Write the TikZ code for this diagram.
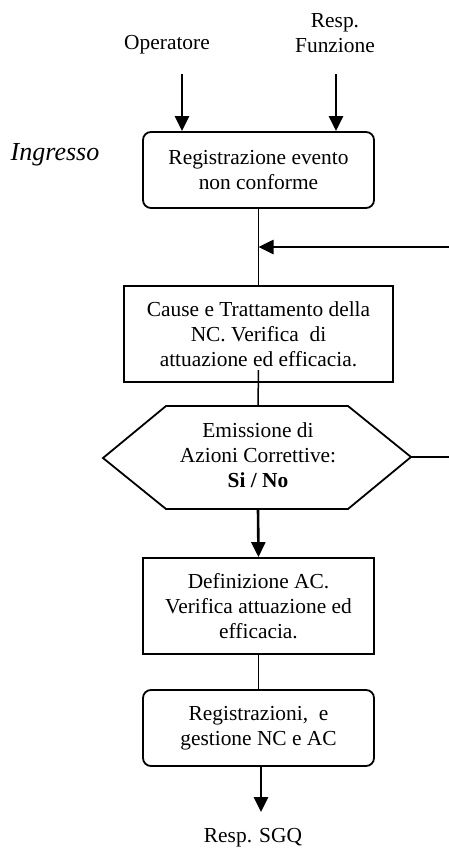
\documentclass[tikz,border=0pt]{standalone}
\usepackage{fontspec}
\setmainfont{Liberation Serif}
\usetikzlibrary{arrows.meta}

\begin{document}
\begin{tikzpicture}[x=1pt,y=-1pt,
  every node/.style={font=\fontsize{21.4}{25}\selectfont, align=center, inner sep=0pt},
  procbox/.style={draw, line width=1.8pt, minimum width=231pt},
  roundbox/.style={procbox, rounded corners=8pt},
  flow/.style={line width=2.6pt, -{Triangle[length=15pt,width=14pt]}},
  link/.style={line width=1.5pt}
]
\useasboundingbox (0,0) rectangle (449,852);

% input labels
\node (op) at (167,45) {Operatore};
\node (rf) at (335,33) {Resp.\\Funzione};
\node (ing) at (55,155) {\fontsize{26}{30}\selectfont\itshape Ingresso};

% process boxes
\node[roundbox, minimum height=76pt] (b1) at (258.5,170) {Registrazione evento\\non conforme};
\node[procbox, minimum width=269pt, minimum height=96pt] (b2) at (258.5,334)
  {Cause e Trattamento della\\NC. Verifica\ \ di\\attuazione ed efficacia.};
\node (hex) at (258,455) {Emissione di\\Azioni Correttive:\\\textbf{Si / No}};
\node[procbox, minimum height=96pt] (b3) at (258.5,606)
  {Definizione AC.\\Verifica attuazione ed\\efficacia.};
\node[roundbox, minimum height=76pt] (b4) at (258.5,728) {Registrazioni,\ \ e\\gestione NC e AC};
\node (sgq) at (253,838) {Resp. SGQ};

% decision hexagon
\coordinate (hN) at (258,406);
\coordinate (hS) at (258,509);
\coordinate (hW) at (103,458);
\coordinate (hE) at (411,457);
\draw[line width=1.8pt, line join=miter]
  (hW) -- (166,406) -- (348,406) -- (hE) -- (348,509) -- (166,509) -- cycle;

% free ends of connectors
\coordinate (opIn) at (182,74);
\coordinate (rfIn) at (336,74);
\coordinate (fbR) at (449,247);
\coordinate (noR) at (449,457);
\coordinate (outEnd) at (261,812);

% connectors
\draw[flow] (opIn) -- (opIn |- b1.north);
\draw[flow] (rfIn) -- (rfIn |- b1.north);
\draw[link] (b1.south) -- (b2.north);
\draw[flow] (fbR) -- (fbR -| b1.south);
\draw[link] (258.5,370) -- (hN);
\draw[link] (hE) -- (noR);
\draw[flow] (hS) -- (b3.north);
\draw[link] (b3.south) -- (b4.north);
\draw[flow] (outEnd |- b4.south) -- (outEnd);
\end{tikzpicture}
\end{document}
